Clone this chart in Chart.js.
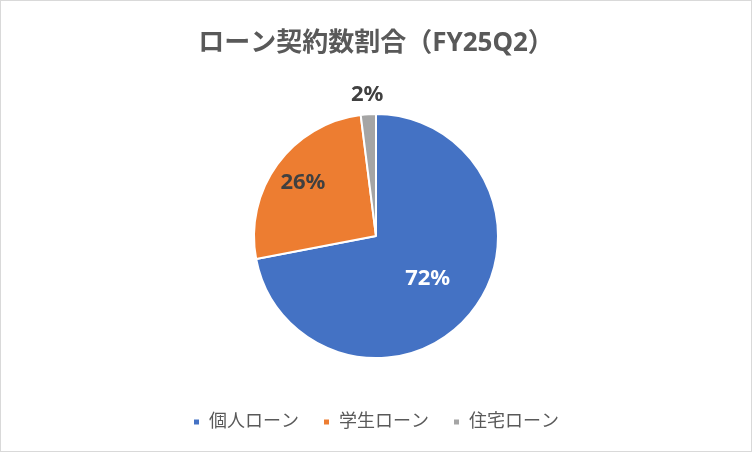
<!DOCTYPE html>
<html>
<head>
<meta charset="utf-8">
<script src="https://cdn.jsdelivr.net/npm/chart.js@4.4.1/dist/chart.umd.min.js"></script>
<style>
  html, body { margin: 0; padding: 0; background: #fff; }
  #wrap { position: absolute; left: 0; top: 0; width: 750px; height: 450px; border: 1px solid #d9d9d9; background: #fff; }
</style>
</head>
<body>
<div id="wrap"><canvas id="pieLoan" width="750" height="450"></canvas></div>
<script>
const FONT = '"Noto Sans", "Noto Sans CJK JP", sans-serif';

const categories = ['個人ローン', '学生ローン', '住宅ローン'];
const shares = [72, 26, 2];
const sliceColors = ['#4472C4', '#ED7D31', '#A5A5A5'];
const chartTitle = 'ローン契約数割合（FY25Q2）';

// where each percentage sits, as a fraction of the radius, and its colour
const labelDist = [0.55, 0.74, 1.16];
const labelColors = ['#ffffff', '#404040', '#404040'];

const pctLabels = {
    id: 'pctLabels',
    afterDatasetsDraw(chart) {
        const ctx = chart.ctx;
        const meta = chart.getDatasetMeta(0);
        const total = shares.reduce((a, b) => a + b, 0);
        ctx.save();
        ctx.font = 'bold 22px ' + FONT;
        ctx.textAlign = 'center';
        ctx.textBaseline = 'middle';
        meta.data.forEach((arc, i) => {
            const p = arc.getProps(['x', 'y', 'startAngle', 'endAngle', 'outerRadius'], true);
            const mid = (p.startAngle + p.endAngle) / 2;
            const r = p.outerRadius * labelDist[i];
            ctx.fillStyle = labelColors[i];
            ctx.fillText(Math.round(shares[i] / total * 100) + '%', p.x + Math.cos(mid) * r, p.y + Math.sin(mid) * r);
        });
        ctx.restore();
    }
};

const ctxLoan = document.getElementById('pieLoan').getContext('2d');
const loanPie = new Chart(ctxLoan, {
    type: 'pie',
    data: {
        labels: categories,
        datasets: [{
            data: shares,
            backgroundColor: sliceColors,
            borderColor: '#ffffff',
            borderWidth: 2
        }]
    },
    options: {
        responsive: false,
        animation: false,
        radius: 122,
        layout: { padding: { top: 0, bottom: 10, left: 0, right: 0 } },
        plugins: {
            title: {
                display: true,
                text: chartTitle,
                color: '#595959',
                font: { family: FONT, size: 26, weight: 'bold' },
                padding: { top: 27, bottom: 24 }
            },
            legend: {
                position: 'bottom',
                labels: {
                    color: '#595959',
                    font: { family: FONT, size: 18 },
                    boxWidth: 7,
                    boxHeight: 7,
                    padding: 24
                }
            },
            tooltip: { enabled: false }
        }
    },
    plugins: [pctLabels]
});
</script>
</body>
</html>
